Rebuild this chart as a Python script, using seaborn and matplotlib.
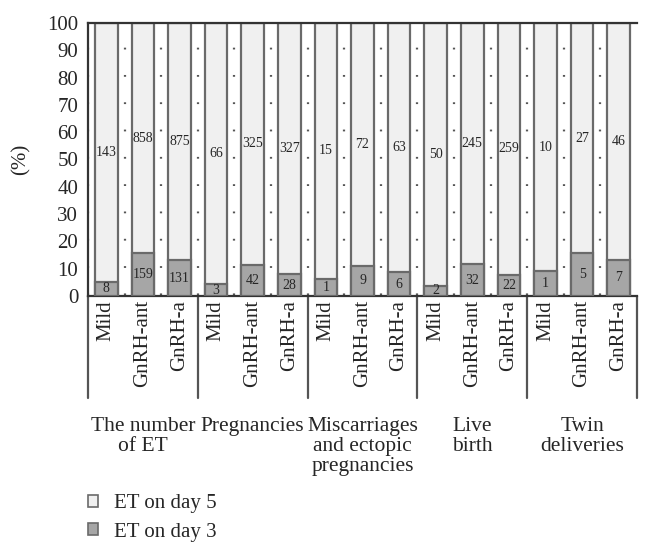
import numpy as np
import pandas as pd
import seaborn as sns
import matplotlib.pyplot as plt
import matplotlib.transforms as mtransforms
from matplotlib.patches import Patch

# Datos
grupos = ["The number\nof ET", "Pregnancies", "Miscarriages\nand ectopic\npregnancies",
          "Live\nbirth", "Twin\ndeliveries"]
protocolos = ["Mild", "GnRH-ant", "GnRH-a"]
dia5 = [143, 858, 875, 66, 325, 327, 15, 72, 63, 50, 245, 259, 10, 27, 46]
dia3 = [8, 159, 131, 3, 42, 28, 1, 9, 6, 2, 32, 22, 1, 5, 7]

n_grupos = len(grupos)
n_prot = len(protocolos)

df = pd.DataFrame({
    "barra": [f"{g}|{p}" for g in grupos for p in protocolos],
    "protocolo": protocolos * n_grupos,
    "dia5": dia5,
    "dia3": dia3,
})
df["total"] = 100.0
df["pct3"] = df["dia3"] / (df["dia3"] + df["dia5"]) * 100

claro = "#f0f0f0"
oscuro = "#a6a6a6"
borde = "#6a6a6a"

sns.set_style("white")
plt.rcParams["font.family"] = ["Liberation Serif", "DejaVu Serif"]
plt.rcParams["lines.scale_dashes"] = False

fig = plt.figure(figsize=(6.51, 5.57), dpi=100)
ax = fig.add_axes([88 / 651, 1 - 296 / 557, 549 / 651, 273 / 557])

# Rejilla punteada entre barras
ax.vlines(np.arange(len(df)) - 0.5, 0, 100, colors="#555555", linewidth=1.6,
          linestyles=[(19.1, (1.3, 18.36))], zorder=0)

# Barras apiladas (100% claro, encima el porcentaje del día 3)
sns.barplot(data=df, x="barra", y="total", color=claro, width=0.62, saturation=1,
            edgecolor=borde, linewidth=1.6, ax=ax, zorder=2)
sns.barplot(data=df, x="barra", y="pct3", color=oscuro, width=0.62, saturation=1,
            edgecolor=borde, linewidth=1.6, ax=ax, zorder=3)

# Etiquetas de conteos
cont_claro, cont_oscuro = ax.containers[0], ax.containers[1]
for rect, p3, v in zip(cont_claro, df["pct3"], df["dia5"]):
    ax.text(rect.get_x() + rect.get_width() / 2, (p3 + 100) / 2, str(v),
            ha="center", va="center", fontsize=10, zorder=5)
for rect, p3, v in zip(cont_oscuro, df["pct3"], df["dia3"]):
    ax.text(rect.get_x() + rect.get_width() / 2, p3 / 2, str(v),
            ha="center", va="center", fontsize=10, zorder=5)

ax.set_xlim(-0.5, len(df) - 0.5)
ax.set_ylim(0, 100)
ax.set_yticks(range(0, 101, 10))
ax.set_xticks(range(len(df)))
ax.set_xticklabels(df["protocolo"], rotation=90, fontsize=15)
ax.tick_params(axis="y", labelsize=15, length=0, pad=7)
ax.tick_params(axis="x", length=0, pad=3)
ax.set_xlabel("")
ax.set_ylabel("(%)", fontsize=15, labelpad=12)

for lado in ["left", "top", "bottom"]:
    ax.spines[lado].set_color("#333333")
    ax.spines[lado].set_linewidth(1.6)
ax.spines["right"].set_visible(False)

# Separadores de grupos y nombres de grupos
trans = mtransforms.blended_transform_factory(ax.transData, ax.transAxes)
for k in range(n_grupos + 1):
    xk = k * n_prot - 0.5
    ax.plot([xk, xk], [0, -0.374], transform=trans, clip_on=False,
            color="#555555", linewidth=1.6)
for k, g in enumerate(grupos):
    ax.text(k * n_prot + 1, -0.445, g, transform=trans, ha="center", va="top",
            fontsize=15.5, linespacing=1.05)

# Leyenda
handles = [Patch(facecolor=claro, edgecolor=borde, linewidth=1.2),
           Patch(facecolor=oscuro, edgecolor=borde, linewidth=1.2)]
fig.legend(handles, ["ET on day 5", "ET on day 3"], loc="center left",
           bbox_to_anchor=(88 / 651, 1 - 518 / 557), frameon=False, fontsize=15,
           handlelength=0.5, handleheight=0.5, handletextpad=0.75,
           labelspacing=0.45, borderpad=0, borderaxespad=0)

fig.savefig("out.png", dpi=100)
